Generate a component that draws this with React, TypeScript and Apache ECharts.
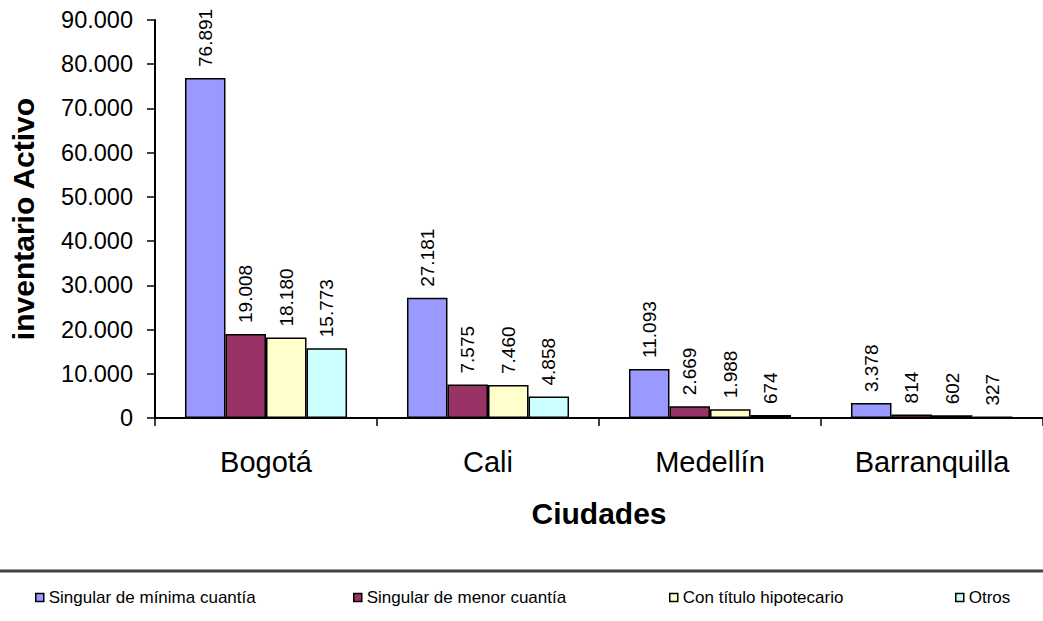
import React, { useEffect, useRef } from "react";
import * as echarts from "echarts";

const categories = ["Bogotá", "Cali", "Medellín", "Barranquilla"];
const seriesNames = [
  "Singular de mínima cuantía",
  "Singular de menor cuantía",
  "Con título hipotecario",
  "Otros",
];
const minimaCuantia = [76891, 27181, 11093, 3378];
const menorCuantia = [19008, 7575, 2669, 814];
const tituloHipotecario = [18180, 7460, 1988, 602];
const otros = [15773, 4858, 674, 327];
const colors = ["#9999FF", "#993366", "#FFFFCC", "#CCFFFF"];
const legendLefts = [35, 353, 669, 955];

const fmt = (v: number) =>
  String(Math.round(v)).replace(/\B(?=(\d{3})+(?!\d))/g, ".");

const FONT = "'Liberation Sans', Arial, sans-serif";

export default function App() {
  const ref = useRef<HTMLDivElement>(null);
  useEffect(() => {
    document.body.style.margin = "0";
    if (!ref.current) return;
    const chart = echarts.init(ref.current, undefined, { renderer: "svg" });
    const values = [minimaCuantia, menorCuantia, tituloHipotecario, otros];
    chart.setOption({
      animation: false,
      backgroundColor: "#ffffff",
      textStyle: { fontFamily: FONT },
      grid: { left: 152, right: -5, top: 20, bottom: 203 },
      legend: seriesNames.map((n, i) => ({
        data: [n],
        left: legendLefts[i],
        top: 589,
        itemWidth: 8,
        itemHeight: 8,
        icon: "rect",
        selectedMode: false,
        padding: 0,
        textStyle: { fontSize: 17, color: "#000", fontFamily: FONT },
        itemStyle: { borderColor: "#000", borderWidth: 1.5 },
      })),
      graphic: [
        {
          type: "line",
          shape: { x1: 0, y1: 571, x2: 1043, y2: 571 },
          style: { stroke: "#444", lineWidth: 3 },
        },
      ],
      xAxis: {
        type: "category",
        data: categories,
        name: "Ciudades",
        nameLocation: "middle",
        nameGap: 80,
        nameTextStyle: { fontSize: 30, fontWeight: "bold", color: "#000", fontFamily: FONT },
        axisLine: { lineStyle: { color: "#000", width: 2 } },
        axisTick: { show: true, length: 8, lineStyle: { color: "#000", width: 1.5 } },
        axisLabel: { fontSize: 29, color: "#000", margin: 29, fontFamily: FONT },
      },
      yAxis: {
        type: "value",
        min: 0,
        max: 90000,
        interval: 10000,
        name: "inventario Activo",
        nameLocation: "middle",
        nameGap: 117,
        nameTextStyle: { fontSize: 30, fontWeight: "bold", color: "#000", fontFamily: FONT },
        splitLine: { show: false },
        axisLine: { show: true, lineStyle: { color: "#000", width: 2 } },
        axisTick: { show: true, length: 8, lineStyle: { color: "#000", width: 1.5 } },
        axisLabel: {
          fontSize: 23.5,
          color: "#000",
          margin: 22,
          fontFamily: FONT,
          formatter: (v: number) => fmt(v),
        },
      },
      series: seriesNames.map((n, i) => ({
        name: n,
        type: "bar",
        data: values[i],
        barGap: "0%",
        barCategoryGap: "27%",
        itemStyle: { color: colors[i], borderColor: "#000", borderWidth: 1.5 },
        label: {
          show: true,
          position: "top",
          rotate: 90,
          align: "left",
          verticalAlign: "middle",
          distance: 11,
          fontSize: 19,
          color: "#000",
          fontFamily: FONT,
          formatter: (p: any) => fmt(p.value),
        },
      })),
    });
    return () => chart.dispose();
  }, []);
  return <div ref={ref} style={{ width: 1043, height: 621 }} />;
}
